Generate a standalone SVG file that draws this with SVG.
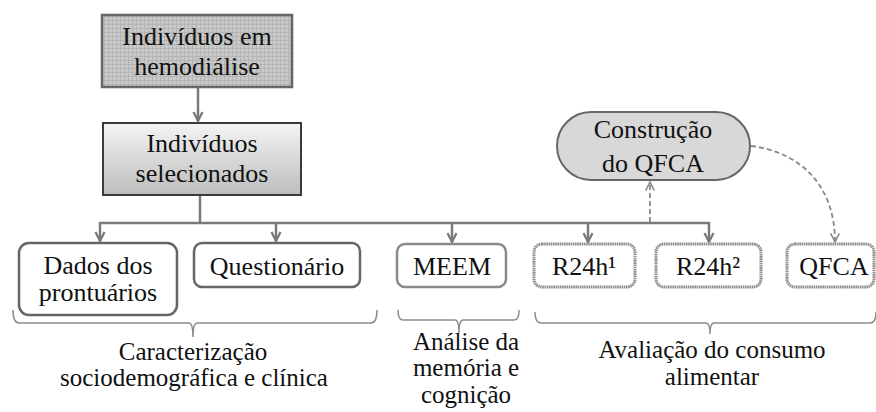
<svg xmlns="http://www.w3.org/2000/svg" width="876" height="412" viewBox="0 0 876 412">
<defs>
  <pattern id="grid" width="4" height="4" patternUnits="userSpaceOnUse">
    <rect width="4" height="4" fill="#c9c9c9"/>
    <path d="M0 0.5H4M0.5 0V4" stroke="#b5b5b5" stroke-width="1"/>
  </pattern>
  <linearGradient id="grad" x1="0" y1="0" x2="0" y2="1">
    <stop offset="0" stop-color="#f4f4f4"/>
    <stop offset="1" stop-color="#bdbdbd"/>
  </linearGradient>
  <marker id="arr" viewBox="0 0 10 10" refX="9" refY="5" markerWidth="4.5" markerHeight="4.5" orient="auto" markerUnits="strokeWidth">
    <path d="M1 1L9 5L1 9" fill="none" stroke="#7a7a7a" stroke-width="2"/>
  </marker>
  <marker id="arrd" viewBox="0 0 10 10" refX="9" refY="5" markerWidth="6" markerHeight="6" orient="auto" markerUnits="strokeWidth">
    <path d="M1 1L9 5L1 9" fill="none" stroke="#8a8a8a" stroke-width="1.5"/>
  </marker>
</defs>

<g id="connectors" fill="none" stroke="#7a7a7a" stroke-width="2.5">
  <line x1="198" y1="87" x2="198" y2="121" marker-end="url(#arr)"/>
  <line x1="200" y1="195" x2="200" y2="223"/>
  <line x1="99" y1="223" x2="710" y2="223"/>
  <line x1="100" y1="222" x2="100" y2="241" marker-end="url(#arr)"/>
  <line x1="276" y1="222" x2="276" y2="241" marker-end="url(#arr)"/>
  <line x1="452" y1="222" x2="452" y2="242" marker-end="url(#arr)"/>
  <line x1="588" y1="222" x2="588" y2="242" marker-end="url(#arr)"/>
  <line x1="709" y1="222" x2="709" y2="242" marker-end="url(#arr)"/>
  <line x1="650" y1="222" x2="650" y2="182" stroke="#8a8a8a" stroke-width="1.8" stroke-dasharray="5 3" marker-end="url(#arrd)"/>
  <path d="M751 146 C800 152 835 185 835 242" stroke="#8a8a8a" stroke-width="1.8" stroke-dasharray="5 3" marker-end="url(#arrd)"/>
</g>

<g id="n-hemodialise">
  <rect x="102" y="15" width="190" height="72" fill="url(#grid)" stroke="#666" stroke-width="2.5"/>
  <text font-family="Liberation Serif" font-size="26" fill="#111" text-anchor="middle" x="197" y="45">Indivíduos em</text>
  <text font-family="Liberation Serif" font-size="26" fill="#111" text-anchor="middle" x="197" y="75">hemodiálise</text>
</g>

<g id="n-selecionados">
  <rect x="103" y="123" width="198" height="72" fill="url(#grad)" stroke="#3a3a3a" stroke-width="2"/>
  <text font-family="Liberation Serif" font-size="26" fill="#111" text-anchor="middle" x="202" y="152">Indivíduos</text>
  <text font-family="Liberation Serif" font-size="26" fill="#111" text-anchor="middle" x="202" y="182">selecionados</text>
</g>

<g id="n-construcao">
  <rect x="557" y="112" width="193" height="68" rx="34" fill="#d8d8d8" stroke="#666" stroke-width="2"/>
  <text font-family="Liberation Serif" font-size="26" fill="#111" text-anchor="middle" x="653" y="138">Construção</text>
  <text font-family="Liberation Serif" font-size="26" fill="#111" text-anchor="middle" x="653" y="172">do QFCA</text>
</g>

<g id="n-dados">
  <rect x="19" y="243" width="158" height="72" rx="10" fill="#fff" stroke="#666" stroke-width="2.5"/>
  <text font-family="Liberation Serif" font-size="26" fill="#111" text-anchor="middle" x="98" y="274">Dados dos</text>
  <text font-family="Liberation Serif" font-size="26" fill="#111" text-anchor="middle" x="98" y="301">prontuários</text>
</g>

<g id="n-questionario">
  <rect x="194" y="243" width="166" height="44" rx="8" fill="#fff" stroke="#666" stroke-width="2.5"/>
  <text font-family="Liberation Serif" font-size="26" fill="#111" text-anchor="middle" x="277" y="275">Questionário</text>
</g>

<g id="n-meem">
  <rect x="397" y="244" width="109" height="43" rx="8" fill="#fff" stroke="#8a8a8a" stroke-width="2.5"/>
  <text font-family="Liberation Serif" font-size="26" fill="#111" text-anchor="middle" x="452" y="275">MEEM</text>
</g>

<g id="n-r24h1">
  <rect x="534" y="244" width="101" height="43" rx="8" fill="#fff" stroke="#8e8e8e" stroke-width="3" stroke-dasharray="1.6 0.6"/>
  <text font-family="Liberation Serif" font-size="26" fill="#111" text-anchor="middle" x="584" y="275">R24h¹</text>
</g>

<g id="n-r24h2">
  <rect x="656" y="244" width="105" height="43" rx="8" fill="#fff" stroke="#8e8e8e" stroke-width="3" stroke-dasharray="1.6 0.6"/>
  <text font-family="Liberation Serif" font-size="26" fill="#111" text-anchor="middle" x="708" y="275">R24h²</text>
</g>

<g id="n-qfca">
  <rect x="787" y="244" width="87" height="43" rx="8" fill="#fff" stroke="#8e8e8e" stroke-width="3" stroke-dasharray="1.6 0.6"/>
  <text font-family="Liberation Serif" font-size="26" fill="#111" text-anchor="middle" x="834" y="275">QFCA</text>
</g>

<g id="braces" fill="none" stroke="#8c8c8c" stroke-width="1.5">
  <path d="M13 310 Q13 323 19 323 L189 323 Q193 323 193 337 Q193 323 197 323 L371 323 Q377 323 377 310"/>
  <path d="M398 310 Q398 320 403 320 L455 320 Q459 320 459 333 Q459 320 463 320 L514 320 Q519 320 519 310"/>
  <path d="M535 312 Q535 323 541 323 L706 323 Q710 323 710 334 Q710 323 714 323 L870 323 Q876 323 876 312"/>
</g>

<g id="labels">
  <text font-family="Liberation Serif" font-size="25" fill="#111" text-anchor="middle" x="193" y="360">Caracterização</text>
  <text font-family="Liberation Serif" font-size="25" fill="#111" text-anchor="middle" x="194" y="386">sociodemográfica e clínica</text>
  <text font-family="Liberation Serif" font-size="25" fill="#111" text-anchor="middle" x="466" y="350">Análise da</text>
  <text font-family="Liberation Serif" font-size="25" fill="#111" text-anchor="middle" x="466" y="376">memória e</text>
  <text font-family="Liberation Serif" font-size="25" fill="#111" text-anchor="middle" x="466" y="403">cognição</text>
  <text font-family="Liberation Serif" font-size="25" fill="#111" text-anchor="middle" x="712" y="358">Avaliação do consumo</text>
  <text font-family="Liberation Serif" font-size="25" fill="#111" text-anchor="middle" x="712" y="385">alimentar</text>
</g>
</svg>
